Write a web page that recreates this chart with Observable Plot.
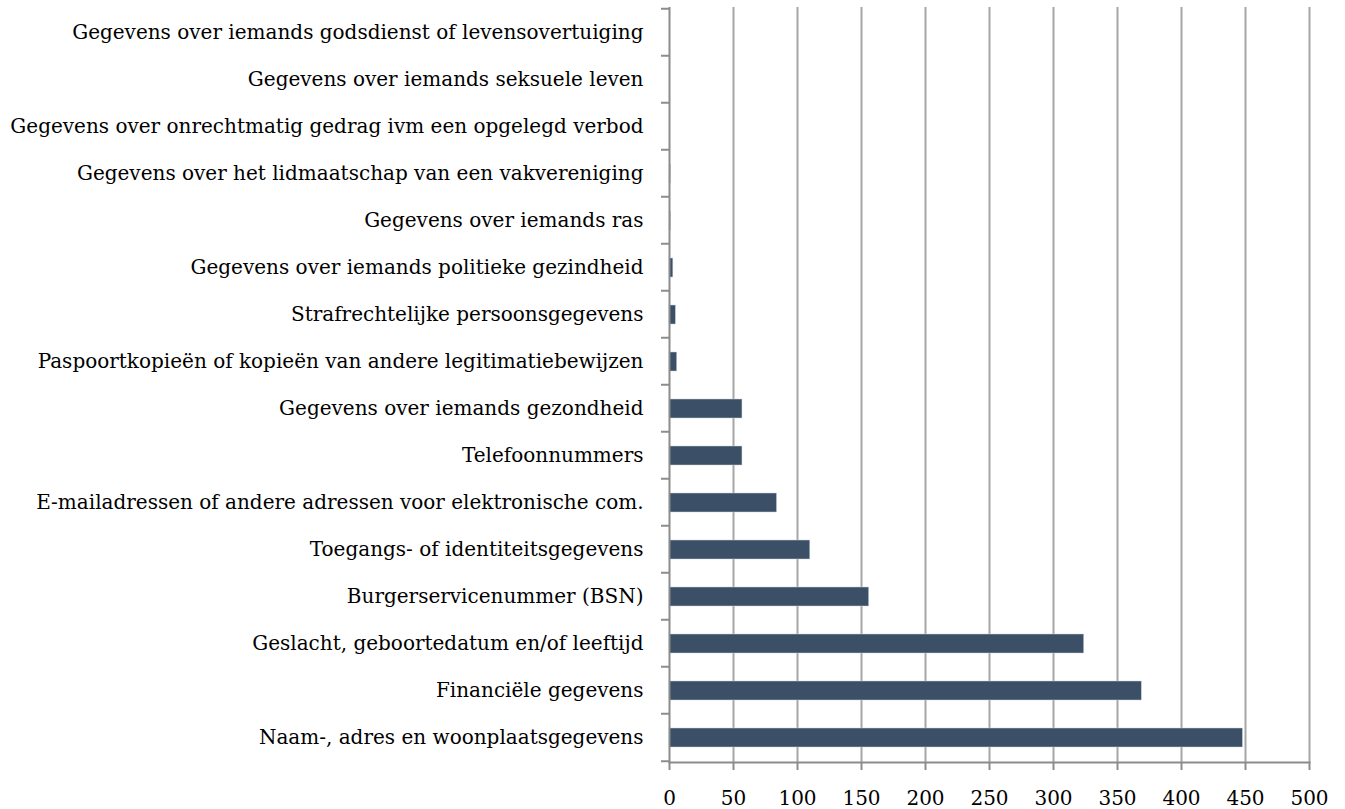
<!DOCTYPE html>
<html>
<head>
<meta charset="utf-8">
<script src="https://cdn.jsdelivr.net/npm/d3@7"></script>
<script src="https://cdn.jsdelivr.net/npm/@observablehq/plot@0.6"></script>
<style>
  html, body { margin: 0; padding: 0; background: #fff; }
  #chart { width: 1345px; height: 809px; }
</style>
</head>
<body>
<div id="chart"></div>
<script>
const categories = [
  "Gegevens over iemands godsdienst of levensovertuiging",
  "Gegevens over iemands seksuele leven",
  "Gegevens over onrechtmatig gedrag ivm een opgelegd verbod",
  "Gegevens over het lidmaatschap van een vakvereniging",
  "Gegevens over iemands ras",
  "Gegevens over iemands politieke gezindheid",
  "Strafrechtelijke persoonsgegevens",
  "Paspoortkopieën of kopieën van andere legitimatiebewijzen",
  "Gegevens over iemands gezondheid",
  "Telefoonnummers",
  "E-mailadressen of andere adressen voor elektronische com.",
  "Toegangs- of identiteitsgegevens",
  "Burgerservicenummer (BSN)",
  "Geslacht, geboortedatum en/of leeftijd",
  "Financiële gegevens",
  "Naam-, adres en woonplaatsgegevens"
];
const values = [0, 0, 0, 1, 1, 3, 5, 6, 57, 57, 84, 110, 156, 324, 369, 448];
const xTicks = [0, 50, 100, 150, 200, 250, 300, 350, 400, 450, 500];

const data = categories.map((c, i) => ({category: c, value: values[i]}));

const FONT = "DejaVu Serif";
const GRID = "#a6a6a6";
const AXIS = "#8c8c8c";

// tick marks on the category axis at band boundaries, derived from the y scale
function bandBoundaryTicks(index, scales, vals, dims) {
  const y = scales.y;
  const bw = y.bandwidth();
  const step = bw / (1 - 0.6);
  const x0 = scales.x(0);
  const g = d3.create("svg:g");
  const dom = y.domain();
  const positions = dom.map(d => y(d) + bw / 2 - step / 2);
  positions.push(y(dom[dom.length - 1]) + bw / 2 + step / 2);
  for (const p of positions) {
    g.append("line")
      .attr("x1", x0 - 8).attr("x2", x0)
      .attr("y1", p).attr("y2", p)
      .attr("stroke", AXIS).attr("stroke-width", 2);
  }
  return g.node();
}

const chart = Plot.plot({
  width: 1345,
  height: 809,
  marginLeft: 669,
  marginRight: 36,
  marginTop: 7,
  marginBottom: 47,
  style: {fontFamily: FONT, fontSize: "20px", color: "#000", background: "#fff"},
  x: {domain: [0, 500], ticks: xTicks},
  y: {domain: categories, paddingInner: 0.6, paddingOuter: 0.3, align: 0.5},
  marks: [
    Plot.gridX(xTicks.filter(t => t > 0), {stroke: GRID, strokeWidth: 2, strokeOpacity: 1}),
    Plot.barX(data, {y: "category", x: "value", fill: "#3b5066", stroke: "#c9d1d9", strokeWidth: 0.5}),
    Plot.axisX({ticks: xTicks, tickSize: 8, tickPadding: 20, stroke: AXIS, strokeWidth: 2, fontSize: 20, fill: "#000", label: null, tickFormat: d => String(d)}),
    Plot.ruleX([0], {stroke: AXIS, strokeWidth: 2}),
    Plot.frame({anchor: "bottom", stroke: AXIS, strokeWidth: 2}),
    Plot.axisY({tickSize: 0, tickPadding: 26, fontSize: 20, fill: "#000", label: null}),
    bandBoundaryTicks
  ]
});
document.getElementById("chart").appendChild(chart);
</script>
</body>
</html>
